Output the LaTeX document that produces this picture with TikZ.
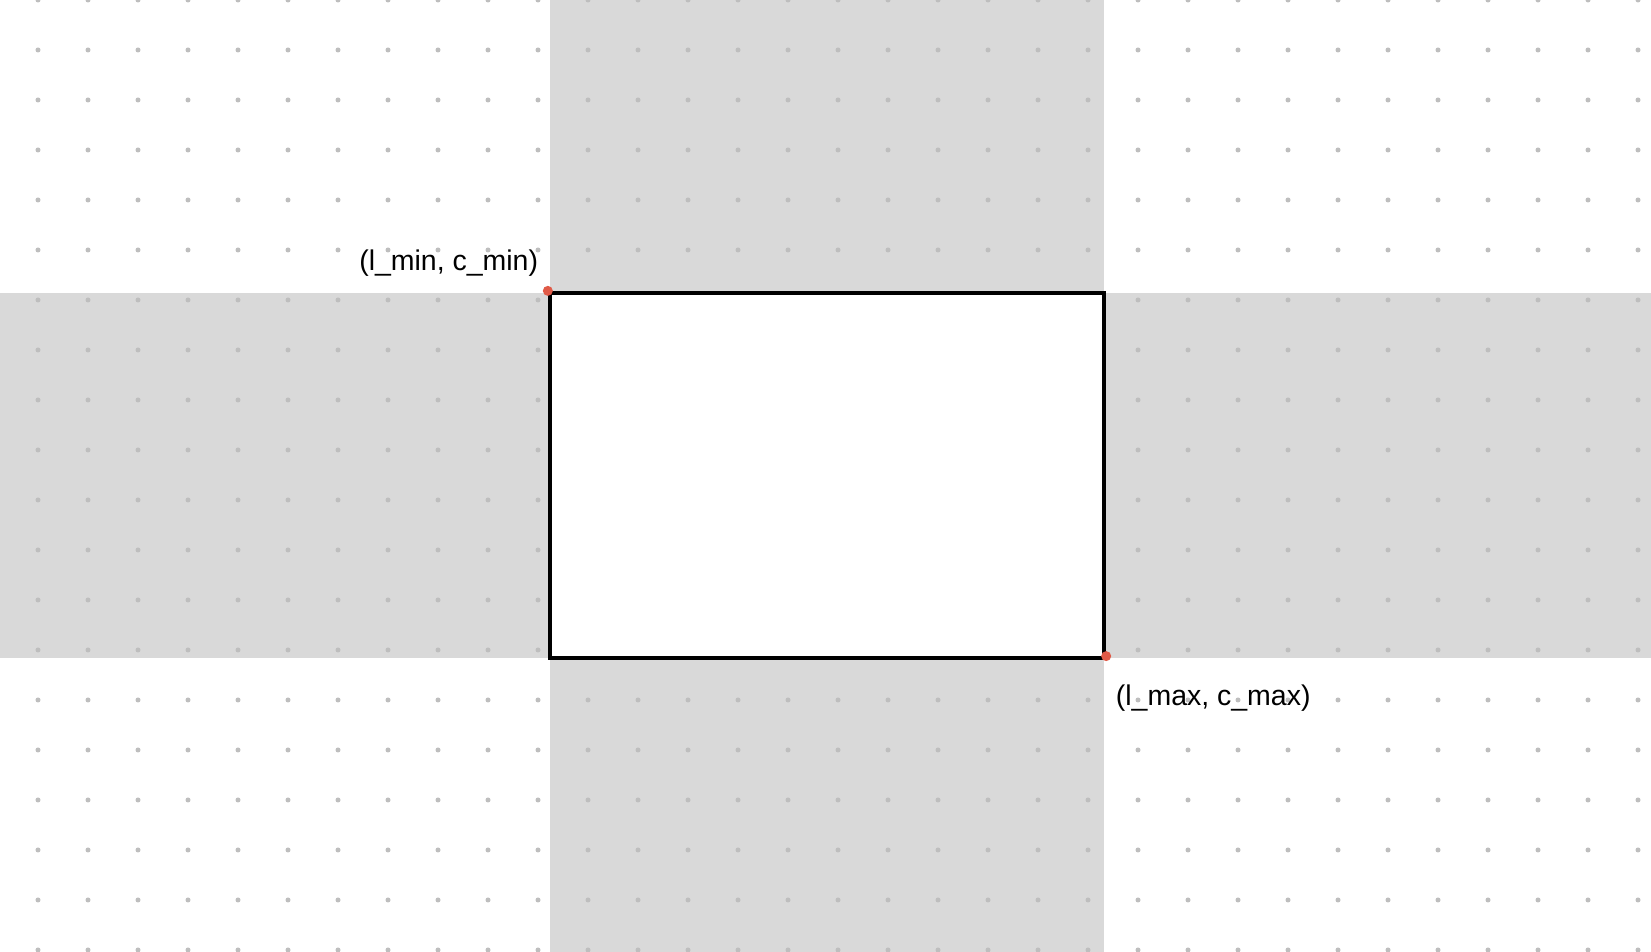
\documentclass[tikz,border=0pt]{standalone}
\usepackage{fontspec}
\setsansfont{Liberation Sans}
\definecolor{bandgray}{HTML}{D9D9D9}
\definecolor{dotgray}{HTML}{BEBEBE}
\definecolor{cornerred}{HTML}{E05A47}
\tikzset{
  region/.style={
    rectangle, draw=black, fill=white, line width=1.15pt,
    minimum width=5.54cm, minimum height=3.65cm, inner sep=0pt
  },
  corner/.style={
    circle, fill=cornerred, inner sep=0pt, minimum size=0.1cm
  },
  coordlabel/.style={
    font=\sffamily\fontsize{8.1}{10}\selectfont, inner sep=0pt
  }
}
\begin{document}
\begin{tikzpicture}[x=0.01cm, y=0.01cm]
        % Fondo
        \fill[white] (0,0) rectangle (1651,952);
        \useasboundingbox (0,0) rectangle (1651,952);
        % Bandas
        \fill[bandgray] (550,0) rectangle (1104,952);
        \fill[bandgray] (0,294) rectangle (1651,659);
        % Rejilla de puntos
        \foreach \x in {38,88,...,1638}
          \foreach \y in {2,52,...,952}
            \fill[dotgray] (\x,\y) circle (0.025cm);
        % Region
        \node[region] (box) at (827,476.5) {};
        \node[corner] (tl) at (box.north west) {};
        \node[corner] (br) at ([shift={(0,4)}]box.south east) {};
        % Etiquetas
        \node[coordlabel, anchor=base east] (minlabel)
          at ([shift={(-9,20)}]box.north west) {(l\_min, c\_min)};
        \node[coordlabel, anchor=base west] (maxlabel)
          at ([shift={(9,-45)}]box.south east) {(l\_max, c\_max)};
      \end{tikzpicture}
\end{document}
